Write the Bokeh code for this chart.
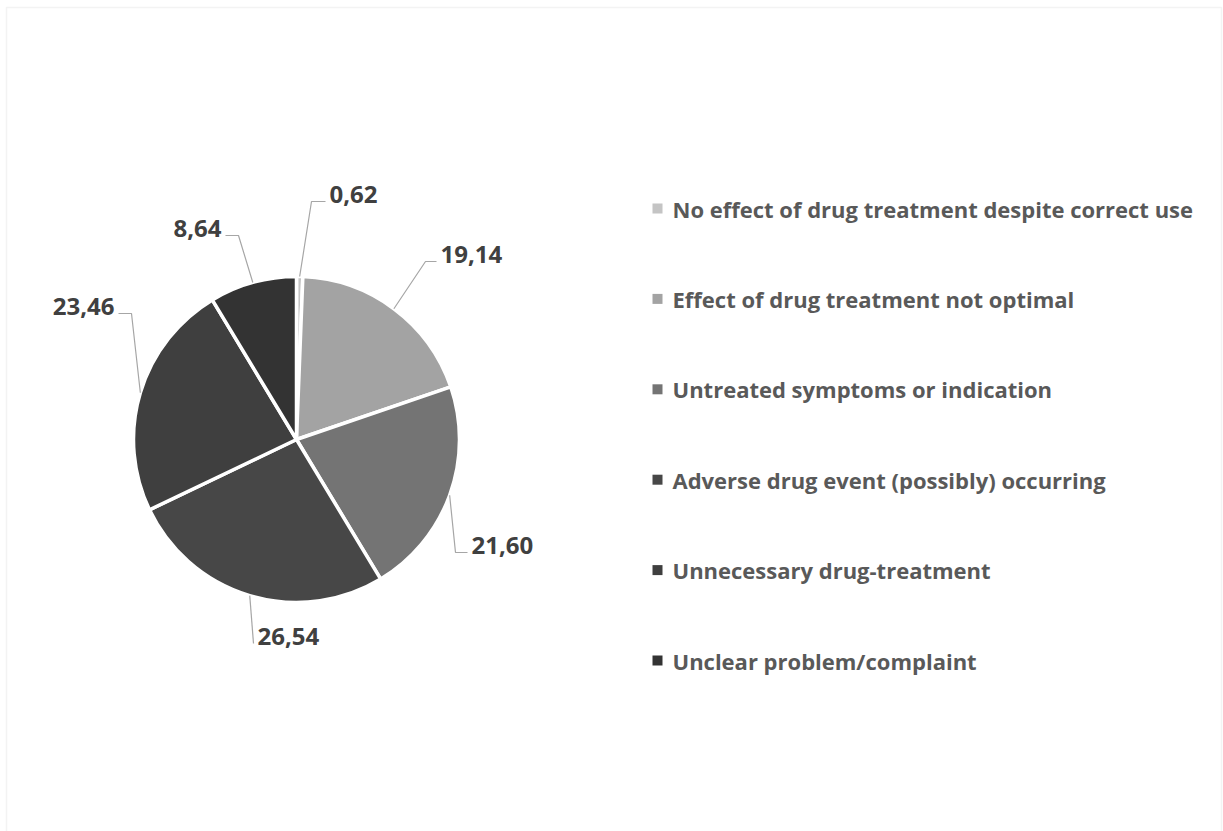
import numpy as np
from bokeh.plotting import figure
from bokeh.models import Range1d, ColumnDataSource, BoxAnnotation
from bokeh.core.properties import value
from bokeh.embed import file_html
from bokeh.resources import INLINE

# Problem categories and their shares (%)
categories = [
    "No effect of drug treatment despite correct use",
    "Effect of drug treatment not optimal",
    "Untreated symptoms or indication",
    "Adverse drug event (possibly) occurring",
    "Unnecessary drug-treatment",
    "Unclear problem/complaint",
]
shares = [0.62, 19.14, 21.60, 26.54, 23.46, 8.64]
slice_colors = ["#c4c4c4", "#a3a3a3", "#747474", "#474747", "#3f3f3f", "#333333"]

# Value labels with a decimal comma
share_labels = [f"{v:.2f}".replace(".", ",") for v in shares]

W, H = 1223, 831


def Y(py):
    """Convert a top-down pixel row to the upward data axis."""
    return H - py


p = figure(width=W, height=H, output_backend="svg", toolbar_location=None,
           x_range=Range1d(0, W), y_range=Range1d(0, H), min_border=0)
p.axis.visible = False
p.grid.visible = False
p.outline_line_color = None
p.background_fill_color = "white"
p.border_fill_color = "white"

# thin chart-area frame
p.add_layout(BoxAnnotation(left=6, right=1221, top=Y(7), bottom=-20,
                           fill_alpha=0, line_color="#d6d6d6", line_width=1.5))

# pie
cx, cy, r = 296, Y(439), 163
frac = np.array(shares) / np.sum(shares)
cum = np.concatenate([[0.0], np.cumsum(frac)])
start = np.pi / 2 - 2 * np.pi * cum[:-1]
end = np.pi / 2 - 2 * np.pi * cum[1:]
pie_src = ColumnDataSource(dict(start=start, end=end, color=slice_colors))
p.wedge(x=cx, y=cy, radius=r, start_angle="start", end_angle="end",
        direction="clock", fill_color="color", line_color="white",
        line_width=3.5, source=pie_src)

# leader lines: from slice mid-angle on the rim to an elbow, then to the label
mid = np.pi / 2 - 2 * np.pi * (cum[:-1] + frac / 2)
rim_x = cx + r * np.cos(mid)
rim_y = cy + r * np.sin(mid)

leader_end = [(325, 201), (436, 261), (467, 552), (253, 643), (118, 313), (225, 235)]
leader_run = [14, 11, 12, 0, 13, 13]
label_side = ["right", "right", "right", "right", "left", "left"]

xs, ys = [], []
right_lab = dict(x=[], y=[], text=[])
left_lab = dict(x=[], y=[], text=[])
for i in range(len(shares)):
    exn, eyn = leader_end[i]
    sgn = 1 if label_side[i] == "right" else -1
    elbow_x = exn - sgn * leader_run[i]
    xs.append([rim_x[i], elbow_x, exn])
    ys.append([rim_y[i], Y(eyn), Y(eyn)])
    tgt = right_lab if sgn == 1 else left_lab
    tgt["x"].append(exn + sgn * 4)
    tgt["y"].append(Y(eyn - 7))
    tgt["text"].append(share_labels[i])

p.multi_line(xs=xs, ys=ys, line_color="#a6a6a6", line_width=1.2)

lab_kw = dict(text_baseline="middle", text_font=value("Open Sans"),
              text_font_style="bold", text_font_size="24px", text_color="#404040")
p.text(x="x", y="y", text="text", text_align="left",
       source=ColumnDataSource(right_lab), **lab_kw)
p.text(x="x", y="y", text="text", text_align="right",
       source=ColumnDataSource(left_lab), **lab_kw)

# legend
leg_y = [Y(208 + 90.4 * i) for i in range(len(categories))]
p.rect(x=657, y=leg_y, width=10, height=10, fill_color=slice_colors, line_color=None)
p.text(x=672, y=leg_y, text=categories, text_align="left", text_baseline="middle",
       text_font=value("Open Sans"), text_font_style="bold",
       text_font_size="22px", text_color="#595959")

open("out.html", "w").write(file_html(p, INLINE))
